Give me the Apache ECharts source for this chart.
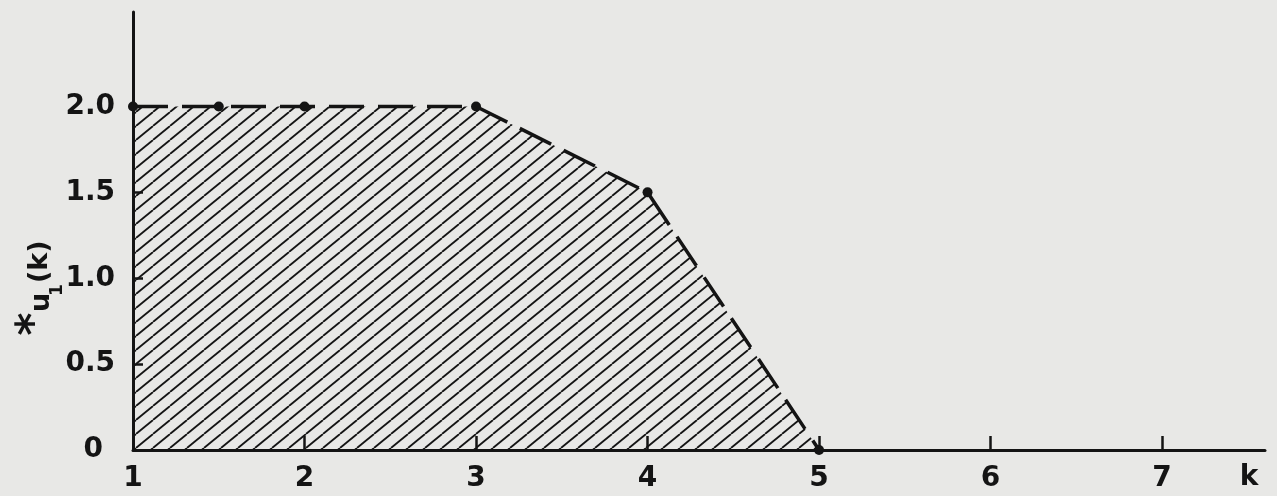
<!DOCTYPE html>
<html>
<head>
<meta charset="utf-8">
<script src="https://cdn.jsdelivr.net/npm/echarts@6/dist/echarts.min.js"></script>
<style>
  html, body { margin: 0; padding: 0; background: #e8e8e6; }
  #chart { width: 1277px; height: 496px; }
</style>
</head>
<body>
<div id="chart"></div>
<script>
// Breakpoints of the optimal policy u1*(k)
const kValues = [1, 1.5, 2, 3, 4, 5];
const uValues = [2.0, 2.0, 2.0, 2.0, 1.5, 0];

// Axis ticks and labels
const xTickLabels = [1, 2, 3, 4, 5, 6, 7];
const xTickMarks = [2, 3, 4, 5, 6, 7];
const yTickLabels = [0, 0.5, 1.0, 1.5, 2.0];
const yTickMarks = [0.5, 1.0, 1.5, 2.0];

const INK = '#141414';
const FONT = 'DejaVu Sans';
const WEIGHT = 'bold';

// Diagonal hatching tile for the feasible region
function hatchTile() {
  const w = 17, h = 14;
  const c = document.createElement('canvas');
  c.width = w; c.height = h;
  const g = c.getContext('2d');
  g.strokeStyle = INK;
  g.lineWidth = 1.8;
  for (let k = -1; k <= 1; k++) {
    g.beginPath();
    g.moveTo(k * w, h);
    g.lineTo(k * w + w, 0);
    g.stroke();
  }
  return c;
}

const points = kValues.map((k, i) => [k, uValues[i]]);

const chart = echarts.init(document.getElementById('chart'));
chart.setOption({
  backgroundColor: '#e8e8e6',
  animation: false,
  grid: { left: 133, right: 12, top: 12, bottom: 46, containLabel: false },
  xAxis: {
    type: 'value',
    min: 1,
    max: 7.6,
    interval: 1,
    name: 'k',
    nameLocation: 'end',
    nameGap: -16,
    nameTextStyle: {
      fontFamily: FONT, fontWeight: WEIGHT, fontSize: 28, color: INK,
      align: 'center', verticalAlign: 'top', padding: [14, 0, 0, 0]
    },
    axisLine: { show: true, lineStyle: { color: INK, width: 3 } },
    axisTick: {
      show: true, inside: true, length: 14,
      customValues: xTickMarks,
      lineStyle: { color: INK, width: 2.5 }
    },
    axisLabel: {
      customValues: xTickLabels,
      margin: 15,
      fontFamily: FONT, fontWeight: WEIGHT, fontSize: 28, color: INK
    },
    splitLine: { show: false }
  },
  yAxis: {
    type: 'value',
    min: 0,
    max: 2.55,
    interval: 0.5,
    axisLine: { show: true, lineStyle: { color: INK, width: 3 } },
    axisTick: {
      show: true, inside: true, length: 10,
      customValues: yTickMarks,
      lineStyle: { color: INK, width: 2.5 }
    },
    axisLabel: {
      customValues: yTickLabels,
      margin: 18,
      fontFamily: FONT, fontWeight: WEIGHT, fontSize: 28, color: INK,
      formatter: v => (v === 0 ? '{z|0}' : v.toFixed(1)),
      rich: {
        z: { fontFamily: FONT, fontWeight: WEIGHT, fontSize: 28, color: INK, padding: [0, 12, 0, 0] }
      }
    },
    splitLine: { show: false }
  },
  series: [{
    type: 'line',
    data: points,
    clip: false,
    symbol: 'circle',
    symbolSize: 10,
    itemStyle: { color: INK },
    lineStyle: { color: INK, width: 3.5, type: [35, 14] },
    areaStyle: { color: { image: hatchTile(), repeat: 'repeat' }, opacity: 1 },
    z: 3
  }],
  graphic: [{
    type: 'group',
    x: 50,
    y: 290,
    rotation: Math.PI / 2,
    children: [
      { type: 'text', x: -34, y: -14,
        style: { text: '*', fontFamily: FONT, fontWeight: WEIGHT, fontSize: 44, fill: INK, align: 'center', verticalAlign: 'middle' } },
      { type: 'text', x: -22, y: -8,
        style: { text: 'u', fontFamily: FONT, fontWeight: WEIGHT, fontSize: 27, fill: INK, align: 'left', verticalAlign: 'middle' } },
      { type: 'text', x: 0, y: 8,
        style: { text: '1', fontFamily: FONT, fontWeight: WEIGHT, fontSize: 17, fill: INK, align: 'center', verticalAlign: 'middle' } },
      { type: 'text', x: 7, y: -10,
        style: { text: '(k)', fontFamily: FONT, fontWeight: WEIGHT, fontSize: 27, fill: INK, align: 'left', verticalAlign: 'middle' } }
    ]
  }]
});
</script>
</body>
</html>
